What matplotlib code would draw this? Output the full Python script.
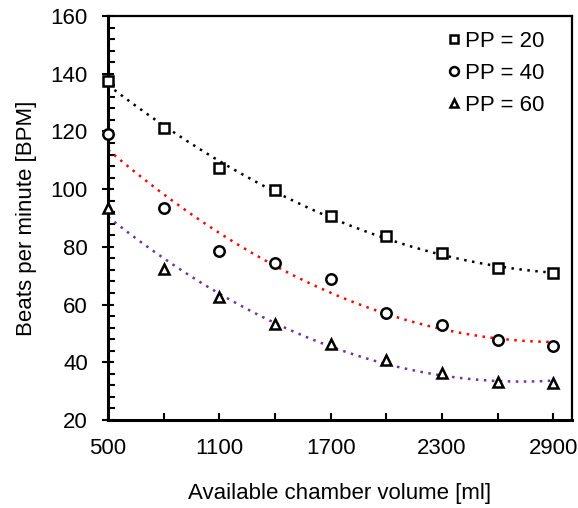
import numpy as np
import matplotlib
matplotlib.use("Agg")
import matplotlib.pyplot as plt
from matplotlib.ticker import MultipleLocator

plt.rcParams['font.family'] = ['Liberation Sans', 'DejaVu Sans']

volume = [500, 800, 1100, 1400, 1700, 2000, 2300, 2600, 2900]
bpm_pp20 = [137.6, 121.1, 107.2, 99.7, 90.8, 83.8, 77.8, 72.6, 70.8]
bpm_pp40 = [119.1, 93.4, 78.7, 74.3, 68.9, 57.0, 52.9, 47.7, 45.7]
bpm_pp60 = [93.5, 72.3, 62.7, 53.3, 46.2, 40.8, 36.4, 33.3, 32.7]

labels = ["PP = 20", "PP = 40", "PP = 60"]
markers = ["s", "o", "^"]
trend_colors = ["black", "red", "#7030a0"]

fig, ax = plt.subplots(figsize=(5.78, 5.08), dpi=100)
fig.subplots_adjust(left=0.187, right=0.9896, top=0.9685, bottom=0.1732)

xs = np.array(volume)
xfit = np.linspace(500, 2900, 200)
for ys, lab, mk, col in zip([bpm_pp20, bpm_pp40, bpm_pp60], labels, markers, trend_colors):
    # quadratic trendline like the spreadsheet one
    coef = np.polyfit(xs, ys, 2)
    ax.plot(xfit, np.polyval(coef, xfit), linestyle=(0, (1, 2.2)), color=col, lw=1.8, zorder=2)
    ax.plot(xs, ys, linestyle="none", marker=mk, markersize=7.5, markerfacecolor="white",
            markeredgecolor="black", markeredgewidth=1.8, label=lab, zorder=3, clip_on=False)

ax.set_xlim(500, 3000)
ax.set_ylim(20, 160)
ax.set_xticks(np.arange(500, 2901, 600))
ax.set_xticks(np.arange(800, 2901, 600), minor=True)
ax.yaxis.set_major_locator(MultipleLocator(20))
ax.yaxis.set_minor_locator(MultipleLocator(4))
ax.tick_params(which="both", direction="in", width=1.5, labelsize=16)
ax.tick_params(which="both", length=5)
ax.tick_params(axis="x", pad=13)
ax.tick_params(axis="y", which="major", direction="inout", length=8, pad=10.5)

for s in ["left", "bottom"]:
    ax.spines[s].set_linewidth(2.2)
for s in ["top", "right"]:
    ax.spines[s].set_linewidth(1.6)

ax.set_xlabel("Available chamber volume [ml]", fontsize=16, labelpad=17)
ax.set_ylabel("Beats per minute [BPM]", fontsize=16, labelpad=10)

leg = ax.legend(loc="upper right", bbox_to_anchor=(0.96, 0.985), frameon=False, fontsize=16,
                handlelength=0.6, handletextpad=0.2, markerscale=0.85, labelspacing=0.5,
                borderaxespad=0.0)

fig.savefig("out.png", dpi=100)
